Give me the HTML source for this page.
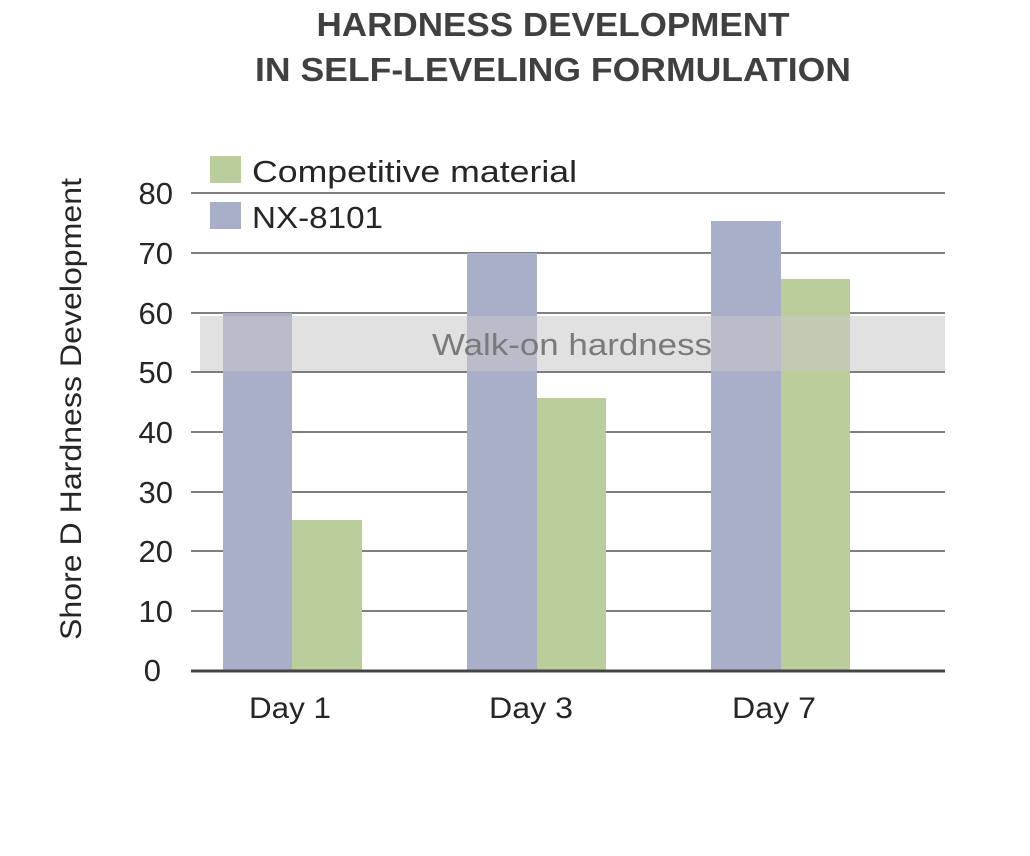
<!DOCTYPE html>
<html><head><style>
body{margin:0;background:#fff;}
</style></head><body>
<svg width="1030" height="851" xmlns="http://www.w3.org/2000/svg" font-family="Liberation Sans, sans-serif">
<rect width="1030" height="851" fill="#fff"/>
<text x="553" y="36" text-anchor="middle" font-size="33" font-weight="bold" fill="#404040" textLength="473" lengthAdjust="spacingAndGlyphs">HARDNESS DEVELOPMENT</text>
<text x="553" y="81" text-anchor="middle" font-size="33" font-weight="bold" fill="#404040" textLength="596" lengthAdjust="spacingAndGlyphs">IN SELF-LEVELING FORMULATION</text>
<g stroke="#555" stroke-width="1.5">
<line x1="191" y1="193" x2="945" y2="193"/>
<line x1="191" y1="253" x2="945" y2="253"/>
<line x1="191" y1="313" x2="945" y2="313"/>
<line x1="191" y1="372" x2="945" y2="372"/>
<line x1="191" y1="432" x2="945" y2="432"/>
<line x1="191" y1="492" x2="945" y2="492"/>
<line x1="191" y1="551" x2="945" y2="551"/>
<line x1="191" y1="611" x2="945" y2="611"/>
</g>
<rect x="223" y="313" width="69" height="358" fill="#a9aec9"/>
<rect x="292" y="520" width="70" height="151" fill="#bccd9c"/>
<rect x="467" y="253" width="70" height="418" fill="#a9aec9"/>
<rect x="537" y="398" width="69" height="273" fill="#bccd9c"/>
<rect x="711" y="221" width="70" height="450" fill="#a9aec9"/>
<rect x="781" y="279" width="69" height="392" fill="#bccd9c"/>
<rect x="200" y="316" width="745" height="55" fill="#c8c8c8" fill-opacity="0.55"/>
<text x="572" y="355" text-anchor="middle" font-size="31" fill="#7a7a7a" textLength="280" lengthAdjust="spacingAndGlyphs">Walk-on hardness</text>
<line x1="191" y1="671" x2="945" y2="671" stroke="#444" stroke-width="3"/>
<rect x="210" y="156" width="31" height="27" fill="#bccd9c"/>
<rect x="210" y="202" width="31" height="27" fill="#a9aec9"/>
<text x="252" y="182" font-size="31" fill="#262626" textLength="325" lengthAdjust="spacingAndGlyphs">Competitive material</text>
<text x="252" y="228" font-size="31" fill="#262626" textLength="131" lengthAdjust="spacingAndGlyphs">NX-8101</text>
<g font-size="31" fill="#262626" text-anchor="end">
<text x="173" y="204">80</text><text x="173" y="264">70</text><text x="173" y="324">60</text>
<text x="173" y="383">50</text><text x="173" y="443">40</text><text x="173" y="503">30</text>
<text x="173" y="562">20</text><text x="173" y="622">10</text><text x="161" y="681">0</text>
</g>
<g font-size="30" fill="#262626" text-anchor="middle">
<text x="290" y="718" textLength="82" lengthAdjust="spacingAndGlyphs">Day 1</text><text x="531" y="718" textLength="84" lengthAdjust="spacingAndGlyphs">Day 3</text><text x="774" y="718" textLength="84" lengthAdjust="spacingAndGlyphs">Day 7</text>
</g>
<text transform="translate(81,409) rotate(-90)" text-anchor="middle" font-size="30" fill="#262626" textLength="462" lengthAdjust="spacingAndGlyphs">Shore D Hardness Development</text>
</svg>
</body></html>
